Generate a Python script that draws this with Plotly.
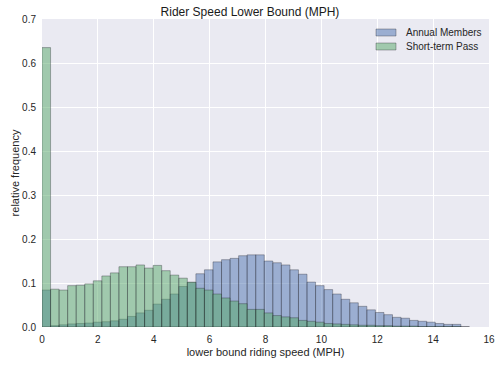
import numpy as np
import plotly.graph_objects as go

BIN_WIDTH = 0.306  # 50 bins spanning 0 .. 15.3 MPH

annual_members = [
    0.084, 0.003, 0.005, 0.007, 0.008, 0.009, 0.011, 0.012, 0.014, 0.0176,
    0.024, 0.032, 0.038, 0.052, 0.063, 0.075, 0.092, 0.101, 0.121, 0.130,
    0.148, 0.153, 0.156, 0.162, 0.164, 0.164, 0.150, 0.146, 0.141, 0.130,
    0.120, 0.102, 0.094, 0.085, 0.075, 0.063, 0.055, 0.047, 0.039, 0.033,
    0.028, 0.022, 0.020, 0.015, 0.013, 0.011, 0.008, 0.006, 0.006, 0.0,
]

short_term_pass = [
    0.635, 0.086, 0.084, 0.094, 0.095, 0.098, 0.105, 0.116, 0.123, 0.137,
    0.137, 0.141, 0.134, 0.140, 0.128, 0.118, 0.111, 0.102, 0.088, 0.084,
    0.075, 0.066, 0.059, 0.053, 0.040, 0.040, 0.032, 0.026, 0.023, 0.021,
    0.015, 0.013, 0.011, 0.008, 0.007, 0.006, 0.005, 0.004, 0.004, 0.003,
    0.003, 0.002, 0.002, 0.002, 0.001, 0.001, 0.001, 0.001, 0.001, 0.0,
]

series_names = ["Annual Members", "Short-term Pass"]
series_colors = ["rgba(76,114,176,0.5)", "rgba(85,168,104,0.5)"]

x_ticks = [0, 2, 4, 6, 8, 10, 12, 14, 16]
y_ticks = [0.0, 0.1, 0.2, 0.3, 0.4, 0.5, 0.6, 0.7]

centers = (np.arange(len(annual_members)) + 0.5) * BIN_WIDTH

FONT = "Liberation Sans, Arial, sans-serif"
EDGE = "rgba(40,40,50,0.35)"
W, H = 500, 365
ML, MR, MT, MB = 42, 11, 19, 38

fig = go.Figure()
for name, vals, col in zip(series_names, [annual_members, short_term_pass], series_colors):
    fig.add_trace(go.Bar(
        x=centers, y=vals, width=BIN_WIDTH, name=name, showlegend=False,
        marker=dict(color=col, line=dict(color=EDGE, width=1)),
    ))

# legend drawn as swatches + text (wide rectangular swatches like matplotlib)
pw, ph = W - ML - MR, H - MT - MB
def px_x(px):
    return (px - ML) / pw
def px_y(py):
    return 1 - (py - MT) / ph

for i, (name, col) in enumerate(zip(series_names, series_colors)):
    yc = 32.5 + 14 * i
    fig.add_shape(type="rect", xref="paper", yref="paper",
                  x0=px_x(376), x1=px_x(396), y0=px_y(yc - 3.5), y1=px_y(yc + 3.5),
                  fillcolor=col, line=dict(color=EDGE, width=1), layer="above")
    fig.add_annotation(xref="paper", yref="paper", x=px_x(404), y=px_y(yc),
                       xanchor="left", yanchor="middle", text=name, showarrow=False,
                       font=dict(size=10, color="#262626"))

fig.update_layout(
    width=W, height=H,
    barmode="overlay",
    paper_bgcolor="white",
    plot_bgcolor="#EAEAF2",
    margin=dict(l=ML, r=MR, t=MT, b=MB, autoexpand=False),
    font=dict(family=FONT, size=10, color="#262626"),
    title=dict(text="Rider Speed Lower Bound (MPH)", x=0.5, xanchor="center",
               y=1 - 12 / H, yanchor="middle", font=dict(size=12, color="#1a1a1a")),
    showlegend=False,
    hovermode=False,
)
fig.update_xaxes(
    range=[0, 16], tickvals=x_ticks, ticktext=[str(v) for v in x_ticks],
    showgrid=True, gridcolor="white", gridwidth=1, zeroline=False,
    showline=False, ticks="", ticklabelstandoff=5, automargin=False,
    title=dict(text="lower bound riding speed (MPH)", font=dict(size=11), standoff=4),
)
fig.update_yaxes(
    range=[0, 0.7], tickvals=y_ticks, ticktext=[f"{v:.1f}" for v in y_ticks],
    showgrid=True, gridcolor="white", gridwidth=1, zeroline=False,
    showline=False, ticks="", ticklabelstandoff=5, automargin=False,
    title=dict(text="relative frequency", font=dict(size=11), standoff=0),
)

fig.write_html("out.html", config={"displayModeBar": False, "staticPlot": True},
               post_script="document.body.style.margin='0';")
